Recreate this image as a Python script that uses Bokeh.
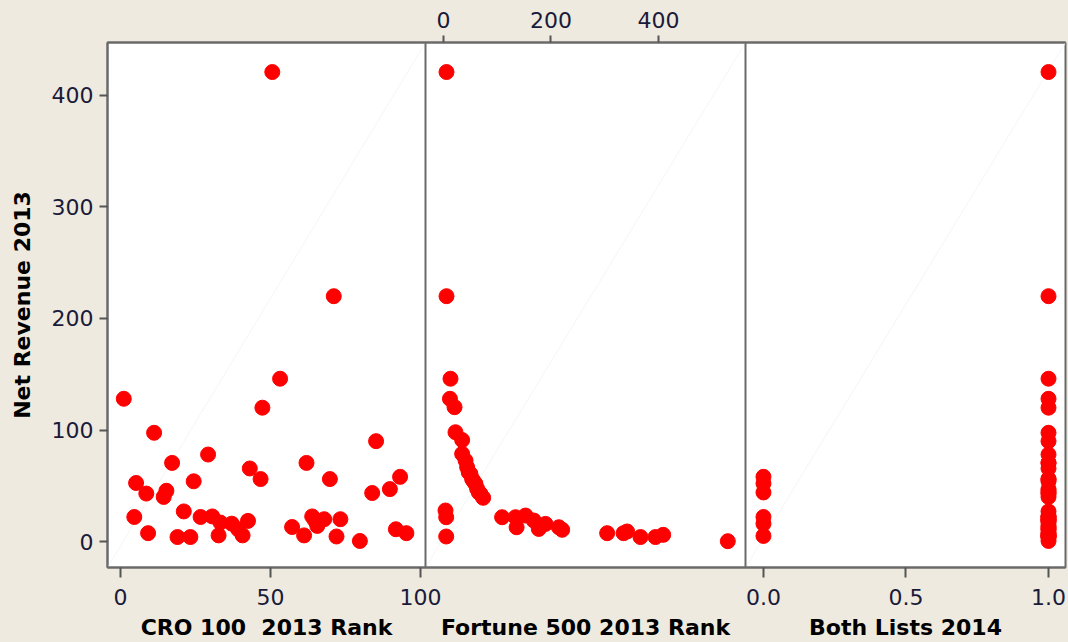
from bokeh.plotting import figure
from bokeh.models import Range1d, LinearAxis, FixedTicker, Span
from bokeh.layouts import column
from bokeh.core.properties import value
from bokeh.embed import file_html
from bokeh.resources import INLINE

# ---------------- data ----------------
cro_rank = [1.1, 5.2, 8.6, 4.6, 9.2, 11.2, 17.2, 14.4, 15.3, 21.1, 19.0, 23.3,
            24.4, 26.7, 29.2, 30.6, 32.7, 33.3, 37.1, 39.2, 40.7, 42.5, 43.1,
            46.7, 47.3, 50.6, 53.2, 57.2, 61.2, 62.0, 63.9, 65.6, 64.8, 67.9,
            69.8, 71.1, 72.0, 73.3, 79.8, 83.9, 85.2, 89.8, 93.2, 91.8, 95.3]
cro_revenue = [128, 52.5, 43, 22, 7.5, 97.5, 70.5, 40, 45.5, 27, 4, 4,
               54, 22, 78, 22.5, 5.5, 17, 16, 11, 5.5, 18.5, 65.5,
               56, 120, 421, 146, 13, 5.5, 70.5, 22.5, 14, 19, 20,
               56, 220, 4.5, 20, 0.5, 43.5, 90, 47, 58, 11, 7.5]

fortune_rank = [5.6, 5.6, 13, 12, 20.5, 22.3, 34.7, 34.7, 41, 44, 47, 50,
                53.3, 56, 59.5, 62.6, 65.7, 68.8, 73.8, 3.7, 5, 5,
                109, 134, 136, 152.6, 168, 177.3, 189.8, 214.6, 220.8,
                304.5, 335, 341.6, 366.5, 394.4, 408.7, 529]
fortune_revenue = [421, 220, 146, 128, 120.5, 98, 91, 78.6, 72.6, 66.6, 62, 60.7,
                   56, 54, 51.7, 47.3, 44, 42.8, 39.2, 27.8, 21.8, 4.5,
                   21.8, 21.8, 12.8, 23.3, 18.8, 11.3, 15.8, 12.8, 10.5,
                   7.5, 7.5, 9, 4, 4, 6, 0.3]

both_lists = [0, 0, 0, 0, 0, 0] + [1] * 40
both_revenue = [58, 52, 44, 22, 16, 5,
                421, 220, 146, 128, 120, 97.5, 90, 78, 70.5, 70.5, 65.5, 56, 56,
                54, 47, 45.5, 43.5, 43, 40, 27, 22.5, 22.5, 22, 20, 20, 19, 18.5,
                17, 14, 13, 11, 11, 7.5, 7.5, 5.5, 5.5, 4.5, 4, 4, 0.5]

cro_ticks = [0, 50, 100]
fortune_ticks = [0, 200, 400]
both_ticks = [0.0, 0.5, 1.0]
both_tick_labels = ["0.0", "0.5", "1.0"]
revenue_ticks = [0, 100, 200, 300, 400]

x_labels = ["CRO 100 \u00a02013 Rank", "Fortune 500 2013 Rank", "Both Lists 2014"]
y_label = "Net Revenue 2013"

# ---------------- layout / style ----------------
BG = "#EEEADF"
FRAME_LINE = "#6a6a6a"
TICK_COL = "#555555"
TICK_TXT = "#1a1a3a"
FONT = "DejaVu Sans"

cro_lim = (-4.33, 101.67)
fortune_lim = (-33.5, 561.9)
both_lim = (-0.063, 1.0596)
rev_lim = (-23.3, 447.5)
panel_px = [318, 320, 320]
frame_w = sum(panel_px)
frame_h = 525
left_px, right_px, top_px, bottom_px = 107, 3, 42, 49
total_w, total_h = 1068, 642
label_h = total_h - top_px - frame_h - bottom_px


def panel_range(lim, offset_px, width_px):
    upp = (lim[1] - lim[0]) / width_px
    start = lim[0] - offset_px * upp
    return Range1d(start, start + frame_w * upp), upp


x_main, cro_upp = panel_range(cro_lim, 0, panel_px[0])
x_fort, fort_upp = panel_range(fortune_lim, panel_px[0], panel_px[1])
x_both, both_upp = panel_range(both_lim, panel_px[0] + panel_px[1], panel_px[2])

p = figure(width=total_w, height=top_px + frame_h + bottom_px,
           output_backend="svg", toolbar_location=None,
           x_range=x_main, y_range=Range1d(*rev_lim),
           min_border_left=left_px, min_border_right=right_px,
           min_border_top=top_px, min_border_bottom=bottom_px)
p.extra_x_ranges = {"fortune": x_fort, "both": x_both}
p.background_fill_color = "white"
p.border_fill_color = BG
p.outline_line_color = FRAME_LINE
p.outline_line_width = 2
p.xgrid.visible = False
p.ygrid.visible = False

# faint diagonal reference lines in each panel
for lim, rname in [(cro_lim, "default"), (fortune_lim, "fortune"), (both_lim, "both")]:
    p.segment(x0=[lim[0]], y0=[rev_lim[0]], x1=[lim[1]], y1=[rev_lim[1]],
              line_color="#f5f5f5", line_width=1, x_range_name=rname)

# panel separators
sep1 = cro_lim[1]
sep2 = x_main.start + (panel_px[0] + panel_px[1]) * cro_upp
for loc in (sep1, sep2):
    p.add_layout(Span(location=loc, dimension="height",
                      line_color=FRAME_LINE, line_width=2))

# points
p.scatter(cro_rank, cro_revenue, size=15, fill_color="#FF0000",
          line_color="#FF0000", line_width=1)
p.scatter(fortune_rank, fortune_revenue, size=15, fill_color="#FF0000",
          line_color="#FF0000", line_width=1, x_range_name="fortune")
p.scatter(both_lists, both_revenue, size=15, fill_color="#FF0000",
          line_color="#FF0000", line_width=1, x_range_name="both")


def style_axis(ax, tick_out):
    ax.axis_line_color = FRAME_LINE
    ax.axis_line_width = 2
    ax.major_tick_line_color = TICK_COL
    ax.major_tick_line_width = 2
    ax.major_tick_in = 0
    ax.major_tick_out = tick_out
    ax.minor_tick_line_color = None
    ax.major_label_text_font = FONT
    ax.major_label_text_font_size = "22px"
    ax.major_label_text_color = TICK_TXT


# y axis
yax = p.yaxis[0]
yax.ticker = FixedTicker(ticks=revenue_ticks)
style_axis(yax, 8)
yax.major_label_standoff = 6
yax.axis_label = y_label
yax.axis_label_text_font = FONT
yax.axis_label_text_font_style = "bold"
yax.axis_label_text_font_size = "22px"
yax.axis_label_text_color = "#000000"
yax.axis_label_standoff = 14

# bottom axis: CRO ticks + Both Lists ticks (positions converted to main units)
both_pos = [x_main.start + (b - x_both.start) / both_upp * cro_upp for b in both_ticks]
xax = p.xaxis[0]
xax.ticker = FixedTicker(ticks=cro_ticks + both_pos)
overrides = {t: str(t) for t in cro_ticks}
for pos, lab in zip(both_pos, both_tick_labels):
    overrides[pos] = lab
xax.major_label_overrides = overrides
style_axis(xax, 10)
xax.major_label_standoff = 11

# top axis for Fortune 500 rank
top = LinearAxis(x_range_name="fortune", ticker=FixedTicker(ticks=fortune_ticks))
style_axis(top, 7)
top.major_label_standoff = 8
p.add_layout(top, "above")

# strip below holding the three panel titles
lab = figure(width=total_w, height=label_h, output_backend="svg",
             toolbar_location=None, x_range=x_main, y_range=Range1d(0, label_h),
             x_axis_type=None, y_axis_type=None,
             min_border_left=left_px, min_border_right=right_px,
             min_border_top=0, min_border_bottom=0)
lab.extra_x_ranges = {"fortune": x_fort, "both": x_both}
lab.background_fill_color = BG
lab.border_fill_color = BG
lab.outline_line_color = None
lab.xgrid.visible = False
lab.ygrid.visible = False
baseline_from_bottom = 15
for lim, rname, txt in [(cro_lim, "default", x_labels[0]),
                        (fortune_lim, "fortune", x_labels[1]),
                        (both_lim, "both", x_labels[2])]:
    lab.text(x=[(lim[0] + lim[1]) / 2], y=[baseline_from_bottom], text=[txt],
             x_range_name=rname, text_font=value(FONT), text_font_style="bold",
             text_font_size="22px", text_color="#000000",
             text_align="center", text_baseline="alphabetic")

layout = column(p, lab, spacing=0)
layout.styles = {"background-color": BG}

html = file_html(layout, INLINE)
html = html.replace("</head>", "<style>html, body { background-color: %s; }</style></head>" % BG, 1)
open("out.html", "w").write(html)
